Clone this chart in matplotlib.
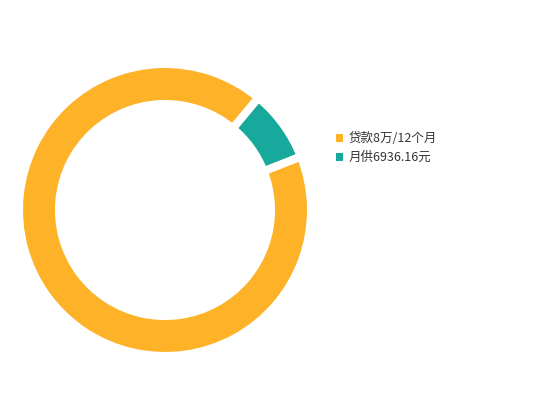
import matplotlib
matplotlib.use("Agg")
import matplotlib.pyplot as plt

plt.rcParams['font.family'] = ['Noto Sans CJK SC', 'DejaVu Sans']

# data
labels = ['贷款8万/12个月', '月供6936.16元']
values = [80000, 6936.16]
colors = ['#FDB227', '#17A99B']

W, H = 550, 420
fig = plt.figure(figsize=(W / 100, H / 100), dpi=100)

# ring centre and radius in pixels (geometry incl. white border)
cx, cy, R = 165, 210, 146
ax = fig.add_axes([(cx - R) / W, (H - cy - R) / H, 2 * R / W, 2 * R / H])

wedges, _ = ax.pie(values, colors=colors, startangle=21.5, counterclock=False,
                   radius=1, wedgeprops=dict(width=40 / R, edgecolor='white', linewidth=5.8))
ax.set_xlim(-1, 1)
ax.set_ylim(-1, 1)
ax.set_aspect('equal')
ax.axis('off')

leg = fig.legend(wedges, labels, loc='upper left',
                 bbox_to_anchor=(336 / W, 1 - 132 / H),
                 frameon=False, fontsize=9, handlelength=0.58, handleheight=0.58,
                 handletextpad=0.4, labelspacing=0.5, borderpad=0, borderaxespad=0)
for t in leg.get_texts():
    t.set_color('#333333')
for h in leg.legend_handles:
    h.set_linewidth(0)

fig.savefig('out.png', dpi=100)
